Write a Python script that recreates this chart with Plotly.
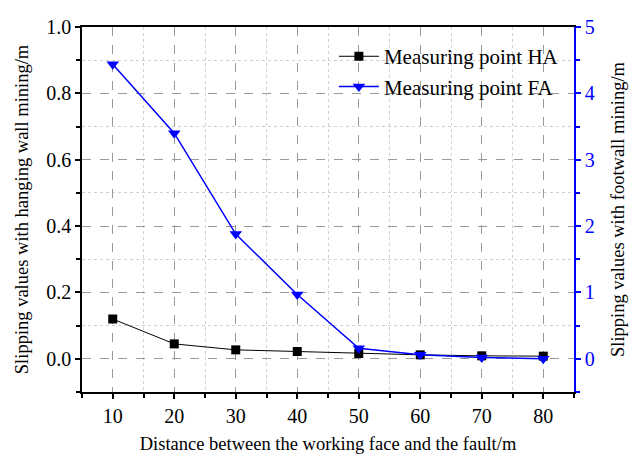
import plotly.graph_objects as go

# Distance between working face and fault (m)
distance = [10, 20, 30, 40, 50, 60, 70, 80]
# Slipping values, hanging wall mining (m) - measuring point HA
slip_ha = [0.12, 0.045, 0.027, 0.022, 0.016, 0.012, 0.009, 0.008]
# Slipping values, footwall mining (m) - measuring point FA
slip_fa = [4.44, 3.40, 1.88, 0.97, 0.16, 0.06, 0.02, 0.0]

FONT = "Liberation Serif, Times New Roman, serif"
BLUE = "#0000ff"

fig = go.Figure()
fig.add_trace(go.Scatter(
    x=distance, y=slip_ha, name="Measuring point HA",
    mode="lines+markers",
    line=dict(color="black", width=1),
    marker=dict(symbol="square", size=9, color="black"),
))
fig.add_trace(go.Scatter(
    x=distance, y=slip_fa, name="Measuring point FA", yaxis="y2",
    mode="lines+markers",
    line=dict(color=BLUE, width=1.5),
    marker=dict(symbol="triangle-down", size=11, color=BLUE),
))

fig.update_layout(
    width=638, height=454,
    margin=dict(l=82, r=64, t=27, b=62),
    paper_bgcolor="white", plot_bgcolor="white",
    font=dict(family=FONT, color="black", size=20),
    showlegend=True,
    legend=dict(
        x=0.512, y=0.975, xanchor="left", yanchor="top",
        bgcolor="rgba(0,0,0,0)", font=dict(size=21),
        itemwidth=40, tracegroupgap=0,
    ),
    xaxis=dict(
        range=[5, 85], tick0=10, dtick=10, automargin=False,
        showline=True, linecolor="black", linewidth=1.5, mirror=True,
        ticks="outside", ticklen=5, tickcolor="black", tickwidth=1.5,
        showgrid=True, gridcolor="#9a9a9a", griddash="dash", gridwidth=1,
        zeroline=False,
        minor=dict(tick0=5, dtick=5, ticks="outside", ticklen=4,
                   tickcolor="black", showgrid=True, gridcolor="#d0d0d0",
                   griddash="dot"),
        title=dict(text="Distance between the working face and the fault/m",
                   font=dict(size=18.5), standoff=20),
    ),
    yaxis=dict(
        range=[-0.1, 1.0], tick0=0, dtick=0.2, tickformat=".1f",
        automargin=False,
        showline=True, linecolor="black", linewidth=1.5,
        ticks="outside", ticklen=5, tickcolor="black", tickwidth=1.5,
        showgrid=True, gridcolor="#9a9a9a", griddash="dash", gridwidth=1,
        zeroline=False,
        minor=dict(tick0=0, dtick=0.1, ticks="outside", ticklen=4,
                   tickcolor="black", showgrid=True, gridcolor="#d0d0d0",
                   griddash="dot"),
        title=dict(text="Slipping values with hanging wall mining/m",
                   font=dict(size=18.5), standoff=13),
    ),
    yaxis2=dict(
        overlaying="y", side="right", automargin=False,
        range=[-0.5, 5.0], tick0=0, dtick=1,
        showline=True, linecolor=BLUE, linewidth=1.5,
        ticks="outside", ticklen=5, tickcolor=BLUE, tickwidth=1.5,
        tickfont=dict(color=BLUE),
        showgrid=False, zeroline=False,
        minor=dict(tick0=0, dtick=0.5, ticks="outside", ticklen=4,
                   tickcolor=BLUE, showgrid=False),
        title=dict(text="Slipping values with footwall mining/m",
                   font=dict(size=18.5, color="black"), standoff=17),
    ),
)

fig.write_html("out.html")
